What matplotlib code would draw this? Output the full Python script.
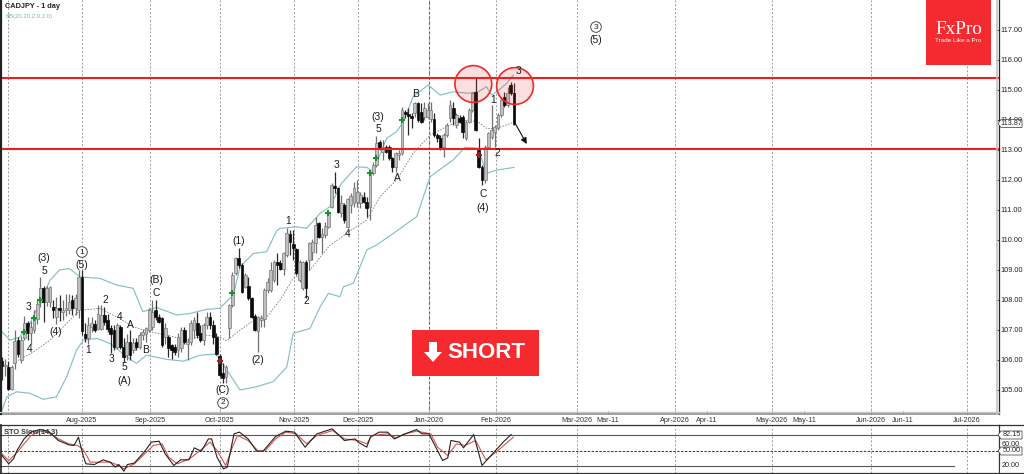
import matplotlib
matplotlib.use("Agg")
import matplotlib.pyplot as plt
from matplotlib.patches import Circle, Rectangle, Polygon

plt.rcParams['font.family'] = ['Liberation Sans', 'DejaVu Sans']

opens = [105.95,105.8,105.77,105.05,105.9,106.66,106.0,106.72,107.22,106.9,
 107.0,107.38,107.94,108.39,107.94,107.94,107.77,107.44,107.72,107.6,
 107.66,107.66,108.0,107.72,107.66,108.77,106.86,106.72,107.11,107.2,
 107.05,107.05,107.5,107.33,107.05,107.0,106.44,107.11,106.44,106.16,
 106.61,106.33,106.61,106.44,106.83,106.88,107.0,107.11,107.66,107.44,
 107.39,106.78,106.78,106.5,106.44,106.33,106.39,107.0,106.55,106.61,
 107.0,107.22,106.89,106.67,107.17,107.44,107.17,106.78,106.14,105.56,
 105.44,107.06,107.83,108.89,109.41,109.17,108.44,108.47,108.06,107.47,
 106.98,107.33,107.36,108.33,108.33,108.67,109.28,109.24,109.02,109.5,
 110.2,109.86,109.69,108.67,108.39,109.28,109.33,109.61,109.89,110.56,
 110.11,110.17,110.44,111.11,111.8,111.74,110.89,111.17,110.44,111.17,
 111.22,111.28,111.22,111.42,111.28,111.11,112.22,112.5,113.28,112.94,
 113.09,113.11,112.72,112.44,112.83,112.89,114.26,114.19,114.13,114.22,
 114.56,114.28,114.11,114.11,114.02,114.02,113.5,113.39,113.09,113.5,
 114.06,114.39,113.83,114.06,114.11,113.39,113.94,114.33,114.94,113.0,
 112.44,112.0,113.11,113.44,113.61,113.72,114.17,114.77,114.5,115.16,114.89]
highs = [106.1,106.05,105.95,105.85,107.0,106.75,106.8,107.45,107.3,107.3,
 107.65,108.0,108.77,108.45,108.45,108.48,108.0,108.1,108.15,108.0,
 108.2,108.2,108.15,108.2,109.0,109.0,107.22,107.44,107.44,107.33,
 107.83,107.83,107.77,107.55,107.16,107.16,107.22,107.16,106.72,106.88,
 107.0,106.72,106.72,106.94,107.05,107.11,107.72,108.0,108.0,107.55,
 107.44,107.22,106.83,106.55,106.55,106.89,107.11,107.11,106.72,107.33,
 107.44,107.61,107.17,107.22,107.61,107.61,107.33,106.89,106.19,105.89,
 105.83,107.86,108.94,109.44,109.72,109.22,108.89,108.78,108.11,107.53,
 107.47,107.5,108.39,108.72,109.28,109.33,109.56,109.33,109.61,110.39,
 110.33,110.33,109.72,109.33,109.31,109.33,109.94,110.02,110.78,110.61,
 110.39,110.61,110.94,111.89,112.28,111.78,111.5,111.22,111.39,111.56,
 111.94,112.0,111.61,111.61,111.44,112.28,112.61,113.47,113.33,113.33,
 113.17,113.17,112.78,112.94,113.0,114.44,114.33,114.39,114.22,114.61,
 114.61,114.56,114.61,114.56,114.61,114.22,113.56,113.5,113.56,113.89,
 114.67,114.61,114.22,114.17,114.17,114.0,114.39,114.94,115.39,113.39,
 112.5,113.17,113.61,114.5,113.83,114.22,114.72,114.94,115.11,115.27,115.22]
lows = [105.35,105.45,105.0,105.0,105.7,106.1,105.9,106.65,106.65,106.55,
 106.9,107.2,107.75,107.27,107.8,107.75,107.4,107.2,107.3,107.35,
 107.45,107.55,107.5,107.5,107.4,106.83,106.61,106.55,106.94,106.94,
 107.0,107.0,107.16,106.94,106.22,106.33,106.38,106.38,105.94,106.0,
 106.0,106.22,106.33,106.38,106.66,106.61,106.94,107.0,107.33,107.22,
 106.44,106.55,106.11,106.05,106.16,106.11,106.28,106.55,106.0,106.5,
 106.72,106.72,106.61,106.5,107.05,107.05,106.55,106.17,105.44,105.22,
 105.22,106.72,107.78,108.83,109.06,108.22,108.39,108.0,107.39,106.98,
 106.28,107.11,107.11,108.22,108.28,108.61,108.5,109.0,108.83,109.44,
 109.5,109.33,108.83,108.61,108.33,108.06,109.0,109.33,109.56,110.06,
 109.56,110.06,110.39,111.06,111.56,110.89,110.78,110.56,110.39,110.89,
 111.11,111.11,111.06,111.22,110.78,110.67,112.17,112.44,113.0,112.67,
 112.89,112.67,112.28,112.28,112.67,112.83,114.06,113.5,113.72,114.11,
 113.94,113.89,114.0,114.06,113.94,113.44,113.28,113.0,112.78,113.44,
 113.94,113.83,113.72,113.89,113.39,113.33,113.89,114.28,113.63,112.39,
 111.83,111.89,113.06,113.38,113.11,113.67,114.11,114.44,114.44,114.83,113.83]
closes = [105.8,105.85,105.05,105.75,106.62,106.2,106.66,107.22,106.9,107.1,
 107.44,107.88,108.39,107.94,108.39,108.44,107.66,107.72,107.66,107.66,
 107.72,107.94,107.72,108.05,108.77,106.95,106.72,107.16,107.22,107.0,
 107.55,107.5,107.27,107.05,106.88,106.42,107.16,106.44,106.11,106.61,
 106.16,106.55,106.44,106.83,106.94,107.05,107.66,107.61,107.44,107.27,
 106.5,107.05,106.39,106.33,106.28,106.78,107.0,106.61,106.61,107.22,
 107.33,106.83,106.67,107.17,107.44,107.17,106.78,106.2,105.5,105.39,
 105.78,107.83,108.83,109.39,109.17,108.28,108.83,108.06,107.44,107.0,
 107.42,107.39,108.33,108.61,109.0,109.28,109.17,109.02,109.56,110.22,
 109.94,109.72,108.89,109.28,109.28,108.39,109.89,109.94,110.5,110.11,
 110.2,110.47,110.89,111.83,111.72,110.94,111.22,110.67,111.36,111.47,
 111.72,111.61,111.5,111.28,111.06,112.22,112.5,113.22,113.06,113.11,
 112.94,112.72,112.44,112.89,112.91,114.33,114.2,114.13,114.06,114.56,
 114.0,113.94,114.39,114.33,114.33,113.5,113.39,113.06,113.5,113.83,
 114.5,114.06,114.17,113.94,113.61,113.94,114.33,114.89,113.67,112.44,
 112.0,113.11,113.55,113.67,113.75,114.17,114.67,114.5,114.89,114.89,113.87]

bb_up_i = [0,2.5,5.6,8.75,12.4,15,18,21,24.4,30.6,35.8,41,44,48.3,54.6,58.75,64,68,72.3,74.4,78.5,82.7,85.8,
           86.9,92,95.2,99.4,102.5,106.1,110.8,114,116,120.2,123.3,125.4,128.5,133.2,136.9,141,145.7,148.8,151.4,153,154.6,157.7,159.8]
bb_up_v = [106.94,106.66,106.77,107.22,108.05,108.66,109,109.05,108.77,108.72,108.5,108.39,107.61,107.75,107.5,107.55,107.69,107.72,108.16,109.11,109.55,109.61,110.3,
           110.39,110.44,110.39,110.89,111.11,111.89,112.44,112.42,112.28,113.39,113.61,113.94,114.78,115.17,114.83,114.94,114.89,114.94,115.11,114.83,114.94,115.22,115.5]
bb_mid_i = [3.5,9.8,15,20.2,24.4,30.6,35.8,41,46.25,51.5,57.7,64,68,70.2,74.4,79.6,82.7,86.9,91,96.25,102.5,105.6,
            107.7,114,118.1,123.3,128.5,133.8,141,145.7,148.8,151.4,154.6,160.3]
bb_mid_v = [105.89,106.27,106.66,107.22,107.66,107.72,107.44,107.11,106.94,106.83,106.66,106.83,106.77,106.64,107,107.39,107.44,108,108.72,109,109.83,110.05,
            110.22,110.67,111.44,112,112.89,113.5,113.89,114,113.94,113.72,113.72,113.94]
bb_low_i = [0,1.5,4.6,8.75,12.9,17,20.2,23.3,25.4,29.6,33.75,39,42,45.2,51.5,56.7,61.9,67,70.2,74.4,79.6,84.8,89,91,96.25,99.4,102,105.6,
            106.7,109.8,114,117,122.3,129.6,133.8,141,144.7,148.8,151.4,154.6,160]
bb_low_v = [104.33,104.77,104.94,104.89,104.69,104.77,105.44,106.33,106.66,106.72,106.55,106.11,105.89,106.16,106.02,105.96,106.16,106.2,105.67,105,105.11,105.28,105.77,106.89,107.05,107.77,108.22,108.11,
            108.44,108.56,109.67,109.83,110.22,110.78,112.11,112.67,113.09,113.06,112.22,112.33,112.42]

sto_k_i = [0,2.1,3.6,4.8,6.9,9,11.8,14.5,17.6,20.9,22.5,23.9,25.2,26.2,28.9,31.6,33.8,35.4,36.5,38.1,39.2,41.3,44.4,46.7,49.1,51,53.7,55.8,58.4,60.1,62.3,64.5,65.5,67.2,69.2,70.4,72.5,74.2,76.9,79.6,81.6,85.5,88.7,91.4,94.7,98.4,103.2,107,110.3,111.3,114,115.1,117.8,120.5,122.6,125.4,129.6,131.2,133.4,137.7,139.3,140.3,143,144.2,147.4,150,156.6,159.1]
sto_k_v = [39.6,22.4,32.8,51.4,74,88,93.5,90,70.7,61.7,60.4,77.6,43,22.4,21,30.7,25.9,15.5,21,7.2,21,23.8,46.6,67.3,69.3,43,19,30.7,30.7,55.5,48.6,74,74,36,12,15.5,84.5,88,74,48.6,48.6,79,90,88,56.9,84.5,94.9,70.7,74,67.3,56.9,77.6,88,88,74,83,93.5,84.5,84.5,29.3,34.8,70.7,67.3,55.5,83,19,67.3,83]
sto_d_i = [0,2.1,4.8,6.9,9.1,11.8,14.4,17.7,20.9,23.6,25.2,27.6,30.6,33.8,36.5,38.1,41.4,44.6,47.3,50,52.1,54.8,58.6,61.3,65,67.2,69.9,72,73.6,76.9,80.1,82.3,85.5,88.7,92,95.2,98.4,103.3,107,111.3,114,115.6,120.5,123.2,125.9,129.6,134,136.1,139.3,142,144.7,148,151.2,154.4,159.8]
sto_d_v = [43,29.3,46.6,63.8,81,90,88,74,63.8,60.4,53.5,25.9,25.9,25.9,19,12,22.4,43,60.4,63.8,36,22.4,32.8,46.6,67.3,50,19,57,81,70.7,48.6,50,74,88,84.5,63.8,81,91.4,74,70.7,63.8,81,84.5,76,84.5,90,84.5,56.9,39.6,63.8,60.4,70.7,30.7,46.6,77.6]

buy_i = [7,10,12,72,102,115,117,125]
buy_p = [106.93,107.4,108.0,108.23,110.9,112.24,112.74,114.0]
sell_i = [68,149]
sell_p = [105.97,112.83]

level_hi = 115.41
level_lo = 113.03
price_ticks = [105,106,107,108,109,110,111,112,113,114,115,116,117]
month_i = [1.9,25,46.25,68.1,91.25,111.25,133.4,154.4,179.7,210.3,240.6,271.6,301.6]
date_i = [25,46.25,68.1,91.25,111.25,133.4,154.4,179.7,189.4,210.3,220.3,240.6,250.6,271.6,281.6,301.6]
date_lab = ['Aug-2025','Sep-2025','Oct-2025','Nov-2025','Dec-2025','Jan-2026','Feb-2026','Mar-2026','Mar-11',
            'Apr-2026','Apr-11','May-2026','May-11','Jun-2026','Jun-11','Jul-2026']
wave_labels = ['(3)','5','3','(4)','4','(5)','2','4','A','1','3','5','(A)','B','(B)','C','(C)','(1)','(2)','2','1','3','4','(3)','5','A','B','1','2','C','(4)','3','(5)']
wave_x = [44,44,28,56,30,82,105,120,130,88,111,124,124,146,156,156,223,239,258,306,288,336,348,378,378,397,416,493,497,483,483,518,596]
wave_y = [258,271,307,332,349,265,300,317,325,350,359,367,381,350,280,293,390,241,360,301,221,165,234,117,129,178,94,100,153,194,208,71,40]
ring_labels = ['1','2','3']
ring_x = [82,223,596]
ring_y = [252,403,27]

W, H = 1024, 474
RED = '#f52a2e'
TEAL = '#86c0c4'
fig = plt.figure(figsize=(W/100, H/100), dpi=100, facecolor='white')

def axes_px(x0, y0, x1, y1):
    return fig.add_axes([x0/W, 1-y1/H, (x1-x0)/W, (y1-y0)/H])

xlim = ((0-2)/3.2, (999-2)/3.2)
ax = axes_px(0, 0, 999, 414)
ax.set_xlim(*xlim)
ax.set_ylim(104.2, 118)

for m in month_i:
    ax.axvline(m, color='#9a9a9a', lw=0.7, dashes=(2, 2), zorder=1)
ax.axvline(133.4, color='#666666', lw=0.8, dashes=(2.5, 2), zorder=1)

ax.plot(bb_up_i, bb_up_v, color=TEAL, lw=0.85, zorder=2)
ax.plot(bb_low_i, bb_low_v, color=TEAL, lw=0.85, zorder=2)
ax.plot(bb_mid_i, bb_mid_v, color='#808080', lw=0.6, dashes=(2, 1.5), zorder=2)

for i, (o, h, l, c) in enumerate(zip(opens, highs, lows, closes)):
    up = c >= o
    ax.vlines(i, l, h, color='#707070' if up else '#2a2a2a', lw=0.9, zorder=3)
    ax.bar(i, max(abs(c-o), 0.05), bottom=min(o, c), width=0.82,
           facecolor='#c0c0c0' if up else '#0a0a0a',
           edgecolor='#787878' if up else '#0a0a0a', lw=0.5, zorder=4)

ax.plot(buy_i, buy_p, ls='', marker='P', ms=4, color='#1f8f2e', mew=0, zorder=5)
ax.plot(sell_i, sell_p, ls='', marker='P', ms=4, color='#a31d1d', mew=0, zorder=5)

ax.axhline(level_hi, color='#f01f1f', lw=1.5, zorder=6)
ax.axhline(level_lo, color='#f01f1f', lw=1.5, zorder=6)

ax.annotate('', xy=(164.0, 113.2), xytext=(160.4, 113.88),
            arrowprops=dict(arrowstyle='-|>', color='#111111', lw=0.8, mutation_scale=9,
                            shrinkA=0, shrinkB=0), zorder=7)

ax.yaxis.tick_right()
ax.set_yticks(price_ticks)
ax.set_yticklabels([f'{p:.2f}' for p in price_ticks], fontsize=5.3, color='#222222')
ax.tick_params(axis='y', direction='in', length=2.5, width=0.6, pad=1.2, color='#222222')
ax.set_xticks(date_i)
ax.set_xticklabels(date_lab, fontsize=5.2, color='#333333')
ax.tick_params(axis='x', direction='in', length=2.5, width=0.6, pad=2.5, color='#444444')
for s in ['top', 'left']:
    ax.spines[s].set_visible(False)
ax.spines['bottom'].set_color('#8c8c8c')
ax.spines['bottom'].set_linewidth(1.2)
ax.spines['right'].set_color('#222222')
ax.spines['right'].set_linewidth(0.9)

sto = axes_px(0, 425, 999, 473)
sto.set_xlim(*xlim)
sto.set_ylim(50-(473-450.5)*2.07, 50+(450.5-425)*2.07)
for m in month_i:
    sto.axvline(m, color='#9a9a9a', lw=0.7, dashes=(2, 2), zorder=1)
sto.axhline(82.15, color='#555555', lw=0.8, zorder=2)
sto.axhline(50, color='#333333', lw=0.7, dashes=(2.5, 1.5), zorder=2)
sto.axhline(17.85, color='#555555', lw=0.8, xmax=954/999, zorder=2)
sto.plot(sto_d_i, sto_d_v, color='#d9534f', lw=0.8, zorder=3)
sto.plot(sto_k_i, sto_k_v, color='#222222', lw=0.8, zorder=4)
sto.set_xticks([])
sto.set_yticks([])
sto.spines['left'].set_visible(False)
for s in ['top', 'bottom', 'right']:
    sto.spines[s].set_color('#333333')
    sto.spines[s].set_linewidth(0.9)

ov = fig.add_axes([0, 0, 1, 1], zorder=10)
ov.set_xlim(0, W)
ov.set_ylim(H, 0)
ov.axis('off')
ov.patch.set_alpha(0)

ov.plot([1, 1], [0, 414], color='#222222', lw=1.6)
ov.plot([1, 1], [425, 473], color='#222222', lw=1.2)
ov.plot([996.5, 996.5], [0, 414], color='#c4c4c4', lw=1.2)
ov.plot([0, 999], [411.5, 411.5], color='#c4c4c4', lw=0.9)
ov.plot([999, 1024], [425, 425], color='#333333', lw=0.9)
ov.plot([999, 1024], [473, 473], color='#333333', lw=0.9)

for lab, x, y in zip(wave_labels, wave_x, wave_y):
    ov.text(x, y, lab, fontsize=7.4, ha='center', va='center', color='#1a1a1a')
for lab, x, y in zip(ring_labels, ring_x, ring_y):
    ov.add_patch(Circle((x, y), 5.3, fc='white', ec='#333333', lw=0.6))
    ov.text(x, y, lab, fontsize=6, ha='center', va='center', color='#1a1a1a')

for cx, cy in [(473.3, 84), (515, 86)]:
    ov.add_patch(Circle((cx, cy), 18.4, fc=(0.95, 0.15, 0.15, 0.15), ec='#ee2a2a', lw=1.2))

ov.add_patch(Rectangle((926, 0), 65, 64.5, fc=RED, ec='none'))
ov.text(958.5, 29, 'FxPro', fontsize=13.8, family='Liberation Serif', color='white', ha='center', va='center')
ov.text(958.5, 40.5, 'Trade Like a Pro', fontsize=4.6, color='white', ha='center', va='center')

ov.add_patch(Rectangle((412, 330), 127, 45.5, fc=RED, ec='none'))
ov.add_patch(Polygon([(429, 342), (437, 342), (437, 352), (442, 352), (433, 362), (424, 352), (429, 352)], fc='white', ec='none'))
ov.text(486, 353, 'SHORT', fontsize=16, fontweight='bold', color='white', ha='center', va='center')

ov.text(5, 6.5, 'CADJPY - 1 day', fontsize=5.3, fontweight='bold', color='#222222', va='center')
ov.text(6, 16.5, 'BB(20,20,2.0,2.0)', fontsize=4.3, color='#7fb4b8', va='center')
ov.text(4, 433, 'STO Slow(14,3)', fontsize=5.3, fontweight='bold', color='#333333', va='center')

def tag(y, lab, width=21):
    ov.add_patch(Polygon([(998, y), (1001, y-4), (1001+width, y-4), (1001+width, y+4), (1001, y+4)],
                         fc='white', ec='#333333', lw=0.5))
    ov.text(1001+width/2, y, lab, fontsize=5.2, ha='center', va='center', color='#222222')

tag(123.5, '113.87')
ov.text(1011, 445, '60.00', fontsize=5.2, ha='center', va='center', color='#222222')
ov.text(1011, 465.5, '20.00', fontsize=5.2, ha='center', va='center', color='#222222')
ov.add_patch(Rectangle((1000, 466), 24, 6.5, fc='white', ec='none'))
tag(435, '82.15')
tag(451, '50.00')

fig.savefig('out.png', dpi=100)
